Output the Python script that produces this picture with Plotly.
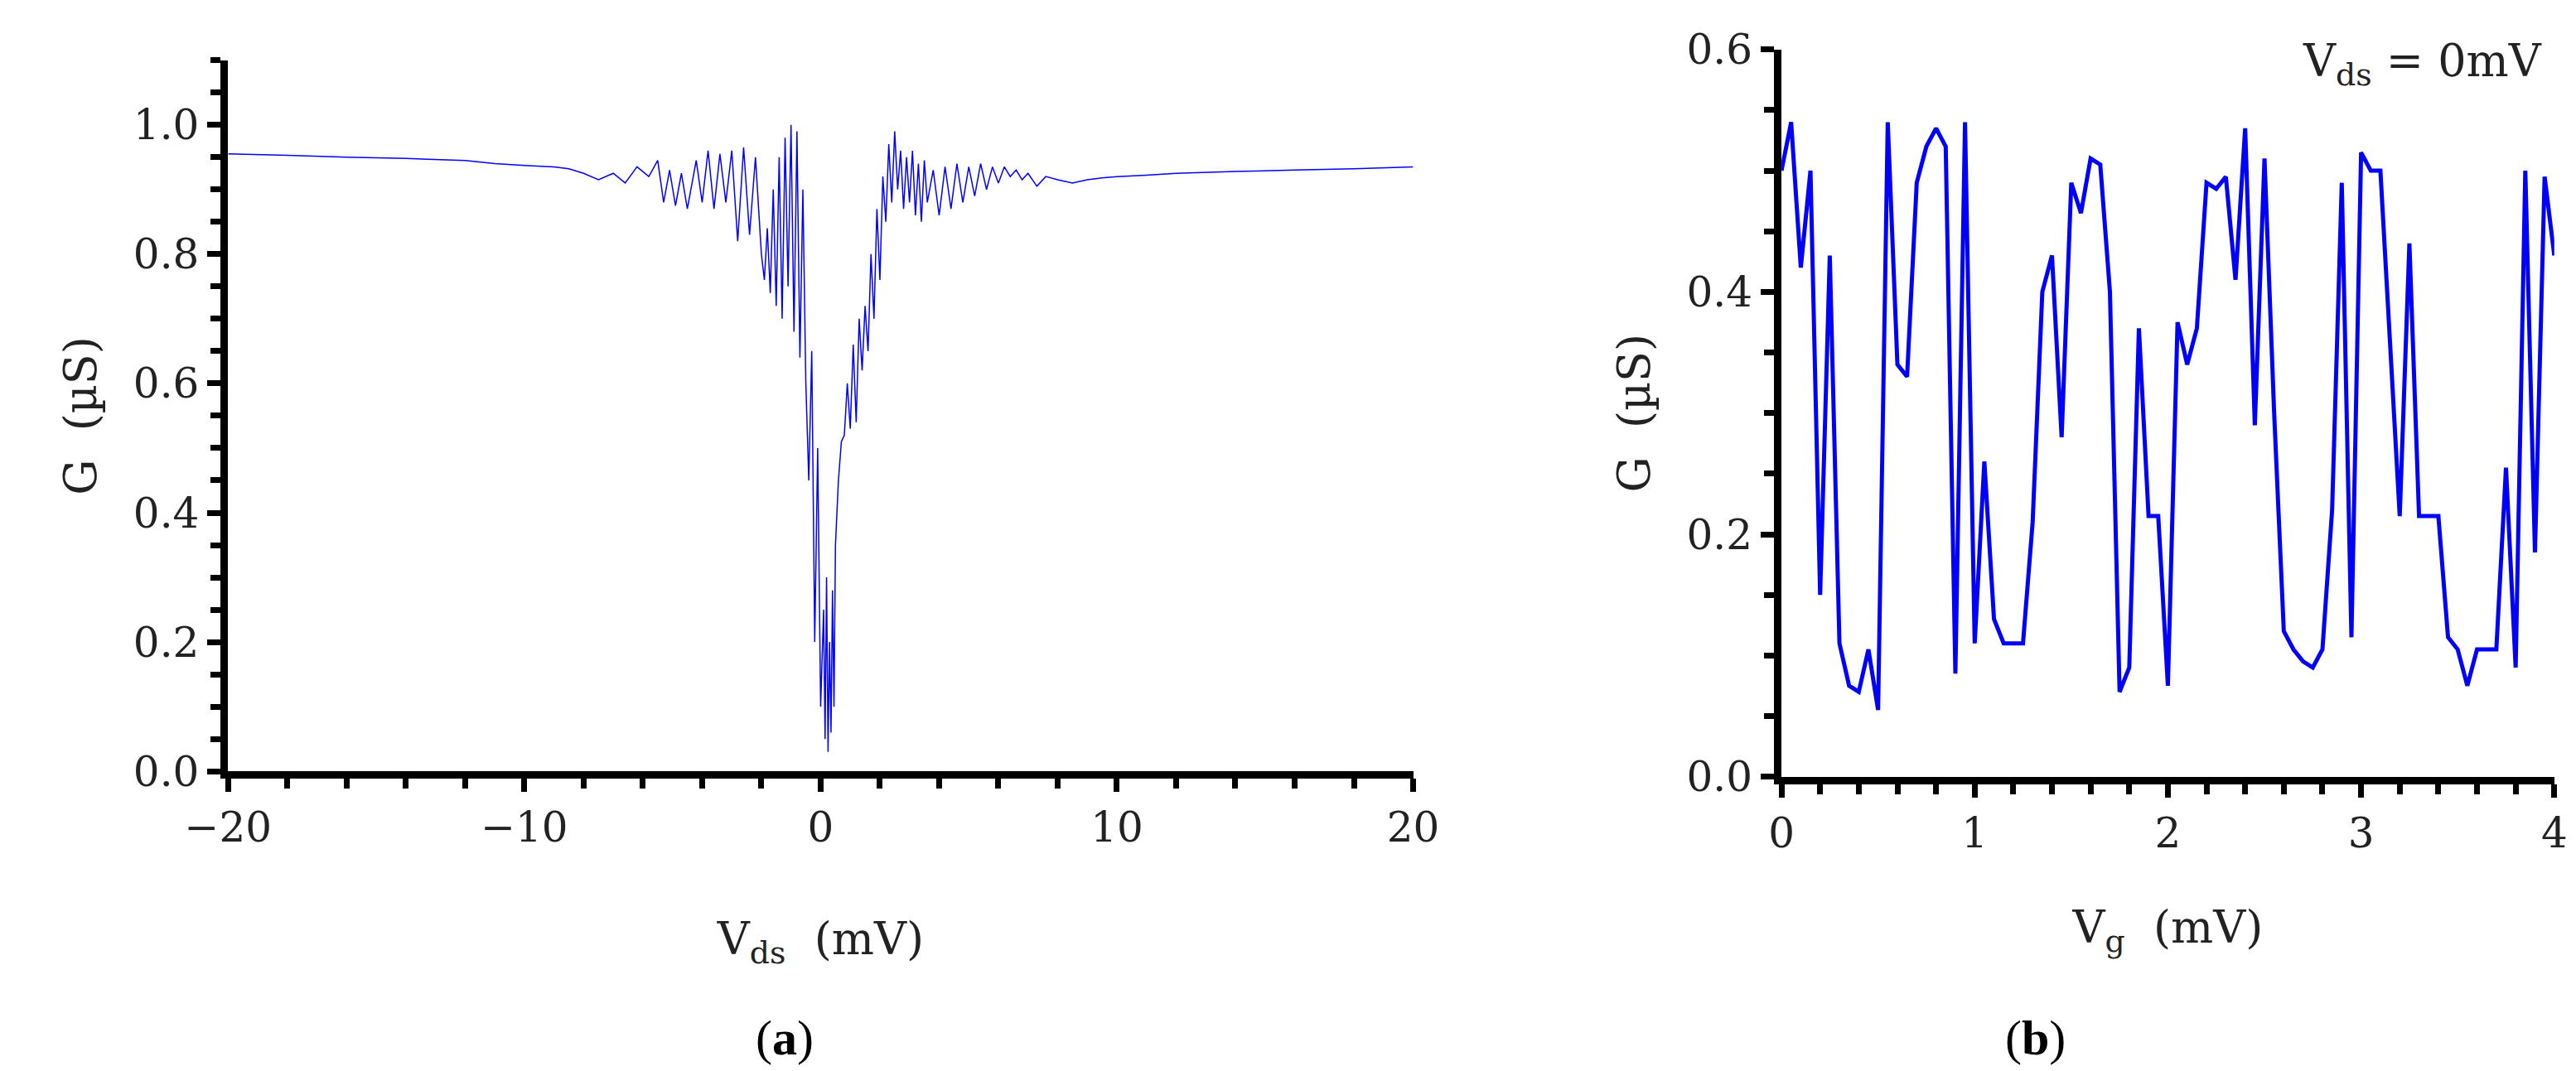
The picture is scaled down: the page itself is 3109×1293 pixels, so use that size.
import plotly.graph_objects as go

# Panel (a): G vs Vds
vds_a = [-20, -18, -16, -14, -12, -11, -10, -9, -8.5, -8, -7.5, -7, -6.6, -6.2, -5.8, -5.5, -5.3, -5.1, -4.9, -4.7, -4.5,
         -4.2, -4.0, -3.8, -3.6, -3.4, -3.2, -3.0, -2.8, -2.6, -2.4, -2.2, -2.0, -1.9, -1.8, -1.7, -1.6, -1.5, -1.4,
         -1.3, -1.2, -1.1, -1.0, -0.9, -0.8, -0.7, -0.6, -0.5, -0.4, -0.3, -0.2, -0.1, 0.0, 0.1, 0.15, 0.2, 0.25, 0.3,
         0.35, 0.4, 0.45, 0.5, 0.6, 0.7, 0.8, 0.9, 1.0, 1.1, 1.2, 1.3, 1.4, 1.5, 1.6, 1.7, 1.8, 1.9, 2.0, 2.1, 2.2,
         2.3, 2.4, 2.5, 2.6, 2.7, 2.8, 2.9, 3.0, 3.1, 3.2, 3.3, 3.4, 3.5, 3.6, 3.8, 4.0, 4.2, 4.4, 4.6, 4.8, 5.0, 5.2,
         5.4, 5.6, 5.8, 6.0, 6.2, 6.4, 6.6, 6.8, 7.0, 7.3, 7.6, 8.0, 8.5, 9.0, 9.5, 10, 11, 12, 14, 16, 18, 20]
g_a = [0.955, 0.953, 0.950, 0.948, 0.945, 0.940, 0.937, 0.935, 0.932, 0.925, 0.915, 0.925, 0.910, 0.935, 0.920, 0.945,
       0.880, 0.930, 0.875, 0.925, 0.870, 0.945, 0.880, 0.960, 0.870, 0.955, 0.880, 0.960, 0.820, 0.965, 0.830, 0.950,
       0.800, 0.760, 0.840, 0.740, 0.900, 0.720, 0.950, 0.700, 0.980, 0.750, 1.000, 0.680, 0.990, 0.640, 0.900, 0.600,
       0.450, 0.650, 0.200, 0.500, 0.100, 0.250, 0.050, 0.300, 0.030, 0.200, 0.060, 0.280, 0.100, 0.350, 0.450, 0.510,
       0.520, 0.600, 0.530, 0.660, 0.540, 0.700, 0.620, 0.720, 0.650, 0.800, 0.700, 0.870, 0.760, 0.920, 0.850, 0.970,
       0.880, 0.990, 0.900, 0.960, 0.870, 0.950, 0.880, 0.960, 0.860, 0.940, 0.850, 0.945, 0.880, 0.930, 0.860, 0.935,
       0.870, 0.940, 0.880, 0.935, 0.890, 0.940, 0.900, 0.935, 0.910, 0.935, 0.920, 0.930, 0.915, 0.925, 0.905, 0.920,
       0.915, 0.910, 0.915, 0.918, 0.920, 0.922, 0.925, 0.928, 0.930, 0.932, 0.935]

# Panel (b): G vs Vg
vg_b = [0.00, 0.05, 0.10, 0.15, 0.20, 0.25, 0.30, 0.35, 0.40, 0.45, 0.50, 0.55, 0.60, 0.65, 0.70, 0.75, 0.80, 0.85,
        0.90, 0.95, 1.00, 1.05, 1.10, 1.15, 1.20, 1.25, 1.30, 1.35, 1.40, 1.45, 1.50, 1.55, 1.60, 1.65, 1.70, 1.75,
        1.80, 1.85, 1.90, 1.95, 2.00, 2.05, 2.10, 2.15, 2.20, 2.25, 2.30, 2.35, 2.40, 2.45, 2.50, 2.55, 2.60, 2.65,
        2.70, 2.75, 2.80, 2.85, 2.90, 2.95, 3.00, 3.05, 3.10, 3.15, 3.20, 3.25, 3.30, 3.35, 3.40, 3.45, 3.50, 3.55,
        3.60, 3.65, 3.70, 3.75, 3.80, 3.85, 3.90, 3.95, 4.00]
g_b = [0.50, 0.54, 0.42, 0.50, 0.15, 0.43, 0.11, 0.075, 0.07, 0.105, 0.055, 0.54, 0.34, 0.33, 0.49, 0.52, 0.535, 0.52,
       0.085, 0.54, 0.11, 0.26, 0.13, 0.11, 0.11, 0.11, 0.21, 0.40, 0.43, 0.28, 0.49, 0.465, 0.51, 0.505, 0.40, 0.07,
       0.09, 0.37, 0.215, 0.215, 0.075, 0.375, 0.34, 0.37, 0.49, 0.485, 0.495, 0.41, 0.535, 0.29, 0.51, 0.30, 0.12,
       0.105, 0.095, 0.09, 0.105, 0.22, 0.49, 0.115, 0.515, 0.50, 0.50, 0.35, 0.215, 0.44, 0.215, 0.215, 0.215, 0.115,
       0.105, 0.075, 0.105, 0.105, 0.105, 0.255, 0.09, 0.50, 0.185, 0.495, 0.43]

FONT = "DejaVu Serif"
TFONT = dict(family=FONT, size=54, color="#222")
fig = go.Figure()
fig.add_trace(go.Scatter(x=vds_a, y=g_a, mode="lines", line=dict(color="#0000ff", width=1.5),
                         xaxis="x", yaxis="y", showlegend=False))
fig.add_trace(go.Scatter(x=vg_b, y=g_b, mode="lines", line=dict(color="#0000ff", width=5),
                         xaxis="x2", yaxis="y2", showlegend=False))

axcommon = dict(showgrid=False, zeroline=False, showline=True, linecolor="black", linewidth=9,
                ticks="outside", ticklen=16, tickwidth=7, tickcolor="black", automargin=False,
                tickfont=dict(family=FONT, size=50, color="#222"),
                minor=dict(ticks="outside", ticklen=12, tickwidth=7, tickcolor="black"))

fig.update_layout(
    width=3109, height=1293, paper_bgcolor="white", plot_bgcolor="white",
    margin=dict(l=0, r=0, t=0, b=0),
    xaxis=dict(domain=[0.086, 0.546], range=[-20, 20], dtick=10, anchor="y",
               title=dict(text="V<sub>ds</sub>  (mV)", font=TFONT, standoff=90), **axcommon),
    yaxis=dict(domain=[0.286, 0.95], range=[0, 1.1], tickvals=[0, 0.2, 0.4, 0.6, 0.8, 1.0],
               ticktext=["0.0", "0.2", "0.4", "0.6", "0.8", "1.0"], anchor="x",
               title=dict(text="G  (µS)", font=TFONT, standoff=30), **axcommon),
    xaxis2=dict(domain=[0.689, 0.989], range=[0, 4], dtick=1, anchor="y2",
                title=dict(text="V<sub>g</sub>  (mV)", font=TFONT, standoff=70), **axcommon),
    yaxis2=dict(domain=[0.281, 0.96], range=[0, 0.6], tickvals=[0, 0.2, 0.4, 0.6],
                ticktext=["0.0", "0.2", "0.4", "0.6"], anchor="x2",
                title=dict(text="G  (µS)", font=TFONT, standoff=30), **axcommon),
    annotations=[
        dict(text="V<sub>ds</sub> = 0mV", x=0.985, y=0.975, xref="paper", yref="paper", xanchor="right",
             yanchor="top", showarrow=False, font=TFONT),
        dict(text="(<b>a</b>)", x=0.29, y=0.01, xref="paper", yref="paper", yanchor="bottom",
             showarrow=False, font=dict(family="Liberation Serif", size=60, color="black")),
        dict(text="(<b>b</b>)", x=0.80, y=0.01, xref="paper", yref="paper", yanchor="bottom",
             showarrow=False, font=dict(family="Liberation Serif", size=60, color="black")),
    ],
)
fig.write_html("out.html")
